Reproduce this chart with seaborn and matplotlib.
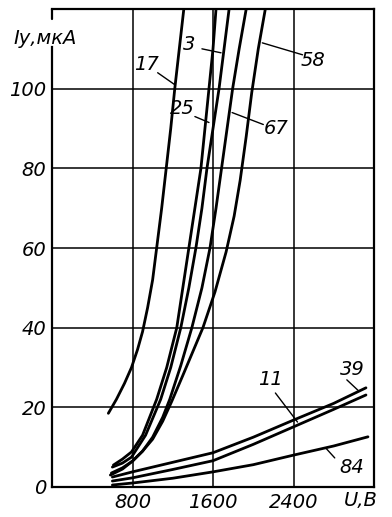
import pandas as pd
import numpy as np
import seaborn as sns
import matplotlib.pyplot as plt

# curves: U (volts) and Iy (microamps)
c17_u = [560, 640, 720, 790, 850, 900, 950, 1000, 1040, 1090, 1135, 1180, 1220, 1265, 1310]
c17_i = [18.5, 22, 26, 30, 34.5, 39, 45, 52, 60, 70, 80, 90, 100, 110, 120]

c25_u = [610, 700, 790, 900, 1040, 1140, 1240, 1300, 1360, 1420, 1480, 1520, 1560, 1600, 1630]
c25_i = [5.5, 7, 8.8, 13, 22, 30, 40, 50, 60, 70, 80, 90, 100, 110, 120]

c3_u = [600, 700, 790, 930, 1080, 1180, 1280, 1360, 1430, 1490, 1540, 1600, 1660, 1710, 1760]
c3_i = [5, 6, 7.5, 13, 22, 30, 40, 50, 60, 70, 80, 90, 100, 110, 120]

c67_u = [590, 700, 800, 900, 1000, 1100, 1170, 1280, 1390, 1490, 1570, 1630, 1685, 1740, 1795, 1860, 1930]
c67_i = [3.5, 4.8, 6.5, 9, 12.5, 17.5, 22, 30.5, 40, 50, 60, 70, 80, 90, 100, 110, 120]

c58_u = [580, 700, 800, 900, 1000, 1100, 1190, 1300, 1400, 1500, 1620, 1730, 1810, 1870, 1930, 1985, 2050, 2120]
c58_i = [3, 4.5, 6.5, 9, 12, 16.5, 21.5, 28, 34, 40, 49, 59, 68, 77, 88, 99, 110, 120]

c39_u = [600, 800, 1200, 1600, 2000, 2400, 2800, 3120]
c39_i = [2.5, 3.8, 6.2, 8.6, 12.5, 16.8, 21, 24.9]

c11_u = [600, 800, 1200, 1600, 2000, 2400, 2800, 3120]
c11_i = [1.5, 2.3, 4.4, 6.6, 10.7, 15.1, 19.5, 23.1]

c84_u = [600, 800, 1200, 1600, 2000, 2400, 2800, 3140]
c84_i = [0.5, 1.0, 2.2, 3.8, 5.6, 8.0, 10.3, 12.6]

curves = {'17': (c17_u, c17_i), '25': (c25_u, c25_i), '3': (c3_u, c3_i),
          '67': (c67_u, c67_i), '58': (c58_u, c58_i), '39': (c39_u, c39_i),
          '11': (c11_u, c11_i), '84': (c84_u, c84_i)}

# label text position and leader line (text xy, leader start, leader end)
labels = {
    '17': ((940, 106), (1050, 104), (1220, 101)),
    '3':  ((1360, 111), (1490, 110), (1680, 109)),
    '25': ((1290, 95), (1420, 93), (1560, 91.5)),
    '58': ((2590, 107), (2490, 108.5), (2090, 111.5)),
    '67': ((2230, 90), (2100, 91), (1790, 94)),
    '39': ((2980, 29.5), (2930, 26.9), (3040, 24.3)),
    '11': ((2170, 27.0), (2220, 23.6), (2440, 16.3)),
    '84': ((2980, 4.8), (2810, 7.3), (2720, 9.8)),
}

rows = []
for name, (u, i) in curves.items():
    for a, b in zip(u, i):
        rows.append({'U': a, 'I': b, 'curve': name})
df = pd.DataFrame(rows)

sns.set_style('white')
plt.rcParams['font.family'] = ['Liberation Sans Narrow', 'DejaVu Sans']
plt.rcParams['font.style'] = 'italic'
plt.rcParams['text.color'] = 'black'
plt.rcParams['xtick.color'] = 'black'
plt.rcParams['ytick.color'] = 'black'

fig = plt.figure(figsize=(3.92, 5.17), dpi=100)
ax = fig.add_axes([52 / 392, 30 / 517, 322 / 392, 478 / 517])

sns.lineplot(data=df, x='U', y='I', units='curve', estimator=None, sort=False,
             color='black', linewidth=2.0, ax=ax, legend=False)

for name, (txt, p0, p1) in labels.items():
    ax.text(txt[0], txt[1], name, fontsize=14, ha='center', va='center')
    ax.plot([p0[0], p1[0]], [p0[1], p1[1]], color='black', linewidth=1.0)

ax.set_xlim(0, 3200)
ax.set_ylim(0, 120)
for v in [800, 1600, 2400]:
    ax.axvline(v, color='black', linewidth=1.1, zorder=0)
for v in [20, 40, 60, 80, 100]:
    ax.axhline(v, color='black', linewidth=1.1, zorder=0)

for s in ax.spines.values():
    s.set_color('black')
    s.set_linewidth(1.6)
# left spine broken at the top to leave room for the caption
ax.spines['left'].set_bounds(0, 110.5)
ax.plot([0, 0], [117.5, 120], color='black', linewidth=1.6, clip_on=False)

ax.set_xticks([800, 1600, 2400])
ax.set_yticks([0, 20, 40, 60, 80, 100])
ax.tick_params(length=0, labelsize=14, pad=4)
ax.set_xlabel('')
ax.set_ylabel('')

ax.text(3070, -3.4, 'U,В', fontsize=14, ha='center', va='center', clip_on=False)
ax.text(-70, 112.5, 'Iу,мкА', fontsize=14, ha='center', va='center', clip_on=False)

fig.savefig('out.png', dpi=100)
